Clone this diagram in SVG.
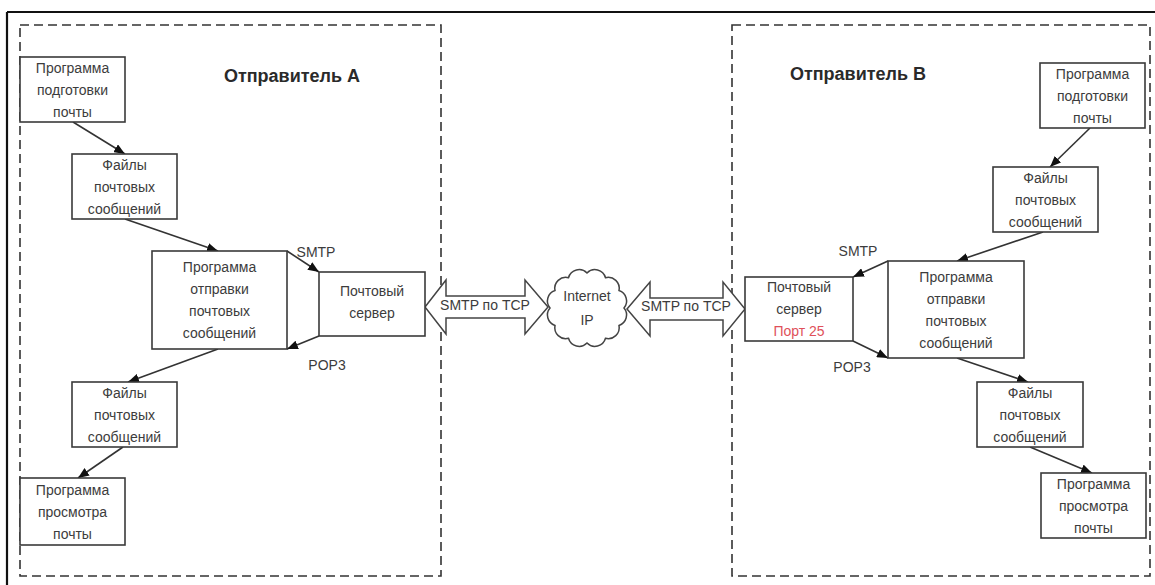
<svg xmlns="http://www.w3.org/2000/svg" width="1155" height="585" viewBox="0 0 1155 585">
<style>
.bx{fill:#fff;stroke:#3a3a3a;stroke-width:1.6}
.t{font-family:"Liberation Sans",Arial,sans-serif;font-size:14px;fill:#3c3c3c;text-anchor:middle}
.ttl{font-family:"Liberation Sans",Arial,sans-serif;font-size:18px;font-weight:bold;fill:#2a2a2a;text-anchor:middle}
.red{fill:#e0505a}
.dash{fill:none;stroke:#333;stroke-width:1.6;stroke-dasharray:9 5}
.ln{stroke:#333;stroke-width:1.6;fill:none;marker-end:url(#ah)}
.dbl{fill:#fff;stroke:#444;stroke-width:1.5;stroke-linejoin:miter}
</style>
<defs>
<marker id="ah" markerUnits="userSpaceOnUse" markerWidth="11" markerHeight="9" refX="11" refY="4.5" orient="auto">
<path d="M0,0 L11,4.5 L0,9 Z" fill="#111"/>
</marker>
</defs>
<rect x="0" y="0" width="1155" height="585" fill="#fff"/>
<g id="frame">
<path d="M7,12 H1155 M7,12 V585" stroke="#111" stroke-width="2.2" fill="none"/>
</g>
<g id="senderA">
<rect class="dash" x="20" y="25" width="421" height="551"/>
<text class="ttl" x="292" y="82">Отправитель А</text>
</g>
<g id="senderB">
<rect class="dash" x="732" y="25" width="418" height="551"/>
<text class="ttl" x="858" y="80">Отправитель В</text>
</g>
<g id="connectors">
<line class="ln" x1="73" y1="122" x2="125" y2="154"/>
<line class="ln" x1="125" y1="219" x2="218" y2="251"/>
<line class="ln" x1="287" y1="251" x2="319" y2="272"/>
<line class="ln" x1="319" y1="336" x2="287" y2="349"/>
<line class="ln" x1="218" y1="349" x2="128" y2="382"/>
<line class="ln" x1="123" y1="447" x2="78" y2="478"/>
<line class="ln" x1="1090" y1="128" x2="1050" y2="167"/>
<line class="ln" x1="1043" y1="232" x2="957" y2="261"/>
<line class="ln" x1="888" y1="261" x2="853" y2="277"/>
<line class="ln" x1="853" y1="341" x2="888" y2="358"/>
<line class="ln" x1="957" y1="358" x2="1028" y2="382"/>
<line class="ln" x1="1030" y1="447" x2="1092" y2="473"/>
<text class="t" x="316" y="257">SMTP</text>
<text class="t" x="327" y="370">POP3</text>
<text class="t" x="858" y="256">SMTP</text>
<text class="t" x="852" y="372">POP3</text>
</g>
<g id="linkA">
<path class="dbl" d="M425,307 L446,280 L446,296 L525,296 L525,280 L548,307 L525,334 L525,318 L446,318 L446,334 Z"/>
<text class="t" x="485" y="310">SMTP по TCP</text>
</g>
<g id="linkB">
<path class="dbl" d="M627,309 L650,282 L650,298 L723,298 L723,282 L745,309 L723,336 L723,320 L650,320 L650,336 Z"/>
<text class="t" x="686" y="311">SMTP по TCP</text>
</g>
<g id="internet">
<path class="dbl" d="M624,308 A11,11 0 0 0 619,290.5 A11,11 0 0 0 605.5,277.7 A11,11 0 0 0 587,273 A11,11 0 0 0 568.5,277.7 A11,11 0 0 0 555,290.5 A11,11 0 0 0 550,308 A11,11 0 0 0 555,325.5 A11,11 0 0 0 568.5,338.3 A11,11 0 0 0 587,343 A11,11 0 0 0 605.5,338.3 A11,11 0 0 0 619,325.5 A11,11 0 0 0 624,308 Z"/>
<text class="t" x="587" y="301">Internet</text>
<text class="t" x="587" y="325">IP</text>
</g>
<g id="a-prep">
<rect class="bx" x="20" y="57" width="105" height="65"/>
<text class="t" x="72.5" y="72.5">Программа<tspan x="72.5" dy="22">подготовки</tspan><tspan x="72.5" dy="22">почты</tspan></text>
</g>
<g id="a-files1">
<rect class="bx" x="72" y="154" width="105" height="65"/>
<text class="t" x="124.5" y="169.5">Файлы<tspan x="124.5" dy="22">почтовых</tspan><tspan x="124.5" dy="22">сообщений</tspan></text>
</g>
<g id="a-send">
<rect class="bx" x="152" y="251" width="135" height="98"/>
<text class="t" x="219.5" y="272">Программа<tspan x="219.5" dy="22">отправки</tspan><tspan x="219.5" dy="22">почтовых</tspan><tspan x="219.5" dy="22">сообщений</tspan></text>
</g>
<g id="a-server">
<rect class="bx" x="319" y="272" width="106" height="64"/>
<text class="t" x="372" y="296">Почтовый<tspan x="372" dy="22">сервер</tspan></text>
</g>
<g id="a-files2">
<rect class="bx" x="72" y="382" width="105" height="65"/>
<text class="t" x="124.5" y="397.5">Файлы<tspan x="124.5" dy="22">почтовых</tspan><tspan x="124.5" dy="22">сообщений</tspan></text>
</g>
<g id="a-view">
<rect class="bx" x="20" y="478" width="105" height="67"/>
<text class="t" x="72.5" y="494.5">Программа<tspan x="72.5" dy="22">просмотра</tspan><tspan x="72.5" dy="22">почты</tspan></text>
</g>
<g id="b-prep">
<rect class="bx" x="1040" y="63" width="105" height="65"/>
<text class="t" x="1092.5" y="78.5">Программа<tspan x="1092.5" dy="22">подготовки</tspan><tspan x="1092.5" dy="22">почты</tspan></text>
</g>
<g id="b-files1">
<rect class="bx" x="993" y="167" width="105" height="65"/>
<text class="t" x="1045.5" y="182.5">Файлы<tspan x="1045.5" dy="22">почтовых</tspan><tspan x="1045.5" dy="22">сообщений</tspan></text>
</g>
<g id="b-send">
<rect class="bx" x="888" y="261" width="136" height="97"/>
<text class="t" x="956" y="281.5">Программа<tspan x="956" dy="22">отправки</tspan><tspan x="956" dy="22">почтовых</tspan><tspan x="956" dy="22">сообщений</tspan></text>
</g>
<g id="b-server">
<rect class="bx" x="745" y="277" width="108" height="64"/>
<text class="t" x="799" y="292">Почтовый<tspan x="799" dy="22">сервер</tspan><tspan x="799" dy="22" class="red">Порт 25</tspan></text>
</g>
<g id="b-files2">
<rect class="bx" x="977" y="382" width="106" height="65"/>
<text class="t" x="1030" y="397.5">Файлы<tspan x="1030" dy="22">почтовых</tspan><tspan x="1030" dy="22">сообщений</tspan></text>
</g>
<g id="b-view">
<rect class="bx" x="1041" y="473" width="105" height="65"/>
<text class="t" x="1093.5" y="488.5">Программа<tspan x="1093.5" dy="22">просмотра</tspan><tspan x="1093.5" dy="22">почты</tspan></text>
</g>
</svg>
